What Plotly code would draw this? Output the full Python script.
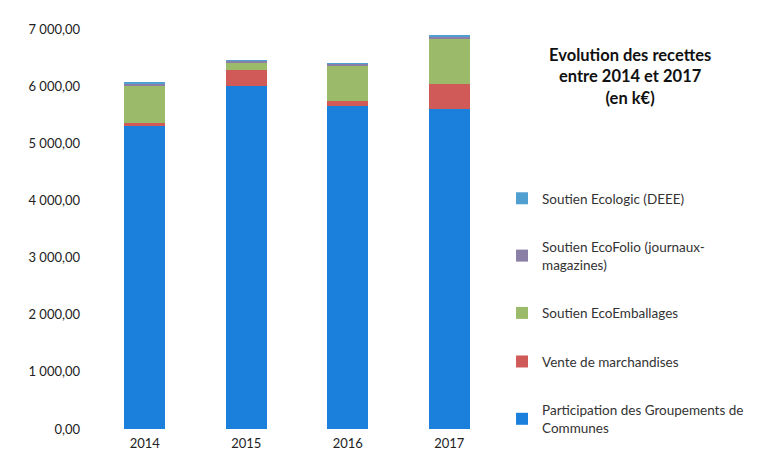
import plotly.graph_objects as go

years = ["2014", "2015", "2016", "2017"]
participation = [5300, 6000, 5650, 5600]
vente = [50, 280, 90, 440]
ecoemballages = [665, 120, 610, 800]
ecofolio = [30, 40, 40, 25]
ecologic = [15, 15, 15, 15]

tick_vals = [0, 1000, 2000, 3000, 4000, 5000, 6000, 7000]
tick_text = ["0,00", "1 000,00", "2 000,00", "3 000,00", "4 000,00",
             "5 000,00", "6 000,00", "7 000,00"]

series = [
    ("Participation des Groupements de<br>Communes", participation, "#1a80dc"),
    ("Vente de marchandises", vente, "#cf5a57"),
    ("Soutien EcoEmballages", ecoemballages, "#9bbb6b"),
    ("Soutien EcoFolio (journaux-<br>magazines)", ecofolio, "#8a7fa6"),
    ("Soutien Ecologic (DEEE)", ecologic, "#4f9fd0"),
]

fig = go.Figure()
n = len(series)
for i, (name, vals, color) in enumerate(series):
    fig.add_trace(go.Bar(x=years, y=vals, name=name, marker_color=color,
                         marker_line_width=0, legendgroup=f"g{i}",
                         legendrank=n - i))

fig.update_layout(
    barmode="stack",
    bargap=0.6,
    width=771, height=464,
    margin=dict(l=86, r=279, t=21, b=43),
    paper_bgcolor="white", plot_bgcolor="white",
    font=dict(family="Lato, Open Sans, sans-serif", size=13, color="#222"),
    xaxis=dict(showgrid=False, showline=False, ticks="", tickfont=dict(size=13),
               ticklabelstandoff=5),
    yaxis=dict(range=[0, 7000], tickvals=tick_vals, ticktext=tick_text,
               showgrid=False, zeroline=False, showline=False,
               ticklabelstandoff=13, tickfont=dict(size=13)),
    legend=dict(x=1.005, y=0.615, xanchor="left", yanchor="top",
                traceorder="grouped", tracegroupgap=28,
                itemwidth=30, font=dict(size=13.5, color="#333")),
    showlegend=True,
)

fig.add_annotation(
    text="<b>Evolution des recettes<br>entre 2014 et 2017<br>(en k€)</b>",
    xref="paper", yref="paper", x=1.32, y=0.882, xanchor="center",
    yanchor="middle", showarrow=False, font=dict(size=16.5, color="#111"),
)

fig.write_html("out.html")
